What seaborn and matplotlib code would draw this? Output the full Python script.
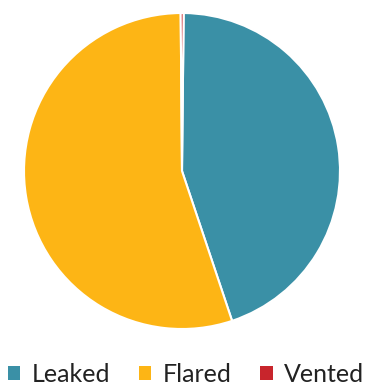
import matplotlib
matplotlib.use("Agg")
import matplotlib.pyplot as plt
import seaborn as sns
from matplotlib.patches import Patch

sns.set_theme(style="white")
plt.rcParams['font.family'] = ['Lato', 'DejaVu Sans']

labels = ["Leaked", "Flared", "Vented"]
values = [44.7, 55.0, 0.3]
colors = ["#3A90A6", "#FDB515", "#C8252C"]

W, H = 372, 389
cx, cy, r = 182, 171, 158
fig = plt.figure(figsize=(W / 100, H / 100), dpi=100)
ax = fig.add_axes([(cx - r) / W, (H - cy - r) / H, 2 * r / W, 2 * r / H])
ax.pie(values, colors=colors, startangle=89.4, counterclock=False,
       wedgeprops=dict(edgecolor="white", linewidth=1.5), radius=1.0)
ax.set_aspect("equal")
ax.set_xlim(-1, 1)
ax.set_ylim(-1, 1)
ax.axis("off")

handles = [Patch(facecolor=c, edgecolor="none") for c in colors]
fig.legend(handles, labels, loc="lower center", bbox_to_anchor=(0.5, -0.05),
           ncol=3, frameon=False, fontsize=18, handlelength=0.5, handleheight=0.5,
           handletextpad=0.45, columnspacing=1.15, labelcolor="#222222")

fig.savefig("out.png", dpi=100)
